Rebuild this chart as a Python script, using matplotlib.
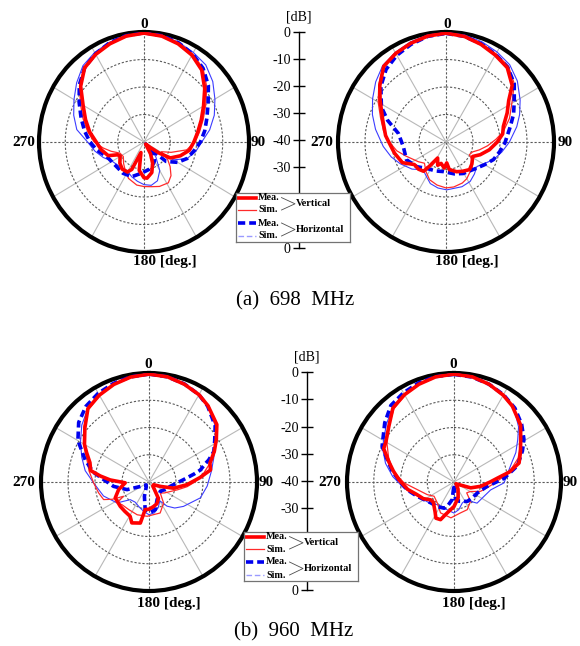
import numpy as np
import matplotlib
matplotlib.use("Agg")
import matplotlib.pyplot as plt

plt.rcParams['font.family'] = ['Liberation Serif', 'DejaVu Serif']

# ---------------- data (angle in degrees, gain in dB) ----------------
# (a) 698 MHz, left pattern
p1_vm_ang = [0, 10, 20, 30, 40, 50, 60, 70, 80, 90, 100, 110, 120, 125, 130, 140, 150, 157, 165, 175, 180, 190, 197, 205, 210, 220, 230, 240, 245, 250, 260, 270, 280, 290, 300, 310, 320, 330, 340, 350, 360]
p1_vm_db = [-0.4, -0.9, -2.0, -3.5, -5.8, -9.8, -13.8, -16.8, -19.2, -21.0, -22.5, -25.3, -28.4, -33, -37, -39, -35, -31.6, -28.5, -26.8, -27, -29.5, -36, -29, -27.4, -27.1, -28, -29.5, -29, -25.5, -23.5, -21.8, -19, -16.3, -13.2, -8.5, -4.8, -3.2, -2.0, -0.9, -0.4]
p1_vs_ang = [0, 10, 20, 30, 40, 50, 60, 70, 80, 90, 100, 110, 118, 125, 132, 140, 148, 160, 170, 180, 190, 204, 215, 225, 236, 246, 255, 262, 270, 280, 290, 300, 310, 320, 330, 340, 350, 360]
p1_vs_db = [-0.3, -0.7, -1.6, -3.0, -5.0, -8.8, -12.8, -16, -18.5, -20.5, -23.5, -29, -32.5, -29, -26.6, -24, -22.5, -22.8, -23.5, -23.8, -24.1, -25.5, -27.5, -29, -30.5, -30, -27, -24.3, -21, -18.2, -15.3, -12, -8, -4.5, -3, -1.6, -0.7, -0.3]
p1_hm_ang = [0, 10, 20, 30, 40, 50, 60, 70, 80, 90, 100, 110, 120, 130, 135, 138, 142, 150, 160, 170, 185, 200, 215, 236, 250, 260, 270, 280, 290, 300, 310, 320, 330, 340, 350, 360]
p1_hm_db = [-0.3, -0.7, -1.6, -3.0, -5.0, -8.0, -11.8, -14.5, -16.5, -18.5, -20.8, -22.5, -25.2, -29, -36, -39, -34, -32, -30.8, -29.8, -28.6, -26.6, -26.1, -26, -24.8, -22, -19.4, -17, -14.5, -11.5, -7.8, -4.8, -3.0, -1.6, -0.7, -0.3]
p1_hs_ang = [0, 10, 20, 30, 40, 50, 60, 70, 80, 90, 100, 110, 120, 125, 130, 140, 150, 160, 170, 180, 190, 200, 213, 225, 240, 250, 260, 270, 280, 290, 300, 310, 320, 330, 340, 350, 360]
p1_hs_db = [-0.3, -0.6, -1.4, -2.4, -3.4, -5.8, -8.8, -11.5, -14.6, -18, -20, -22.5, -27, -33, -37, -33, -28, -25, -24, -24.5, -25.5, -26.5, -27.8, -27.2, -26, -23.5, -21, -18.5, -14, -11.5, -9.2, -6.5, -3.8, -2.4, -1.4, -0.6, -0.3]

# (a) 698 MHz, right pattern
p2_vm_ang = [0, 10, 20, 30, 40, 50, 57, 65, 75, 82, 90, 100, 110, 118, 130, 139, 150, 160, 173, 178, 184, 193, 200, 208, 215, 218, 226, 235, 245, 258, 270, 276, 289, 302, 310, 320, 330, 340, 350, 360]
p2_vm_db = [-0.4, -1.0, -2.2, -3.5, -4.7, -8, -12.3, -15, -18, -18.8, -21, -23.7, -26.5, -28.8, -27.5, -26.7, -27.7, -28.5, -29.9, -32.4, -30.5, -32, -31, -33.4, -29.2, -26.5, -25.8, -25.7, -22.2, -20.5, -18.8, -17.5, -15.2, -11.2, -8, -4.1, -2.8, -1.8, -0.9, -0.4]
p2_vs_ang = [0, 10, 20, 30, 40, 50, 58, 70, 80, 87, 95, 103, 110, 118, 125, 134, 142, 150, 158, 170, 180, 192, 204, 215, 226, 235, 251, 260, 270, 280, 290, 300, 310, 320, 330, 340, 350, 360]
p2_vs_db = [-0.3, -0.8, -1.8, -3.0, -4.0, -7, -11, -15, -18.5, -21.5, -24.5, -27.3, -29.5, -30.2, -28, -26.5, -25.8, -24.6, -23.9, -23.4, -23.3, -24, -25, -27, -28.9, -27.5, -24.3, -21.5, -19, -16.5, -14.2, -11, -7.5, -3.8, -2.5, -1.5, -0.7, -0.3]
p2_hm_ang = [0, 10, 20, 30, 40, 50, 59, 68, 77, 91, 100, 110, 120, 130, 140, 151, 165, 185, 200, 217, 230, 246, 264, 280, 290, 298, 310, 320, 330, 340, 350, 360]
p2_hm_db = [-0.5, -1.0, -2, -3.2, -4.5, -7.0, -10.5, -13, -15.6, -18.2, -19.8, -21.3, -23.5, -25.2, -26.3, -26.9, -28, -29.2, -28.8, -28, -26, -24, -24.1, -22.1, -17, -12.9, -8.5, -5.5, -3.6, -2.2, -1.0, -0.5]
p2_hs_ang = [0, 10, 20, 30, 40, 50, 61, 70, 78, 90, 100, 110, 120, 128, 138, 148, 160, 179, 190, 201, 210, 220, 232, 245, 255, 266, 280, 290, 300, 310, 320, 330, 340, 350, 360]
p2_hs_db = [-0.3, -0.5, -1.2, -2.2, -3.3, -5.5, -8.6, -11, -13.2, -16.5, -19, -21.3, -24, -25.5, -24.3, -23.1, -22.7, -22.6, -23, -23.8, -25.5, -26.8, -24, -21.3, -19, -16.7, -13.5, -11, -8.6, -6, -3.6, -2.4, -1.3, -0.5, -0.3]

# (b) 960 MHz, left pattern
p3_vm_ang = [0, 10, 20, 30, 38, 50, 58, 65, 73, 79, 85, 94, 104, 111, 120, 135, 150, 160, 170, 180, 188, 192, 203, 209, 220, 230, 245, 256, 268, 273, 277, 281, 288, 295, 300, 310, 320, 330, 340, 350, 360]
p3_vm_db = [-0.4, -0.8, -1.8, -3.0, -4.5, -7.2, -10.6, -13.3, -16.4, -16.8, -21, -25.9, -30.6, -35.5, -38, -38, -33, -31.5, -30.8, -30, -29.8, -24.6, -23.7, -25.6, -26, -26.1, -26.2, -28.4, -31.2, -25.6, -21.8, -18, -17, -14.5, -12.4, -9, -4.8, -3.2, -1.9, -0.9, -0.4]
p3_vs_ang = [0, 10, 20, 30, 40, 50, 60, 70, 81, 90, 97, 105, 114, 125, 134, 145, 160, 172, 183, 200, 217, 230, 237, 241, 245, 249, 258, 269, 280, 290, 300, 310, 320, 330, 340, 350, 360]
p3_vs_db = [-0.4, -0.8, -1.8, -3.2, -5, -7.8, -11.3, -14.8, -19.5, -23, -25.8, -29, -31.4, -33, -34.2, -30.6, -27.9, -27.9, -27.4, -27.2, -27.4, -27, -26, -29.2, -25, -22, -20.9, -19.5, -17.5, -15.5, -12, -8.5, -5.2, -3.4, -1.9, -0.9, -0.4]
p3_hm_ang = [0, 10, 20, 30, 38, 50, 58, 65, 70, 72, 77, 80, 86, 101, 115, 129, 142, 155, 167, 178, 188, 198, 210, 225, 243, 251, 263, 273, 280, 289, 300, 310, 320, 330, 340, 350, 360]
p3_hm_db = [-0.4, -0.8, -1.7, -3.0, -4.7, -8, -11.3, -13.5, -16.5, -18, -20.5, -23, -27.1, -31.9, -33.5, -34.6, -34, -32.9, -29.6, -28.8, -29.8, -34.5, -38, -38.5, -36.4, -31.4, -26.8, -23.2, -19, -15, -9.6, -6, -3.7, -2.4, -1.5, -0.8, -0.4]
p3_hs_ang = [0, 10, 20, 30, 40, 50, 60, 70, 80, 94, 107, 125, 135, 143, 150, 160, 170, 180, 190, 200, 215, 227, 237, 253, 269, 280, 290, 300, 310, 320, 330, 340, 350, 360]
p3_hs_db = [-0.4, -0.8, -1.7, -3.0, -5, -8, -11.5, -14.5, -16.5, -18.4, -20.1, -24.4, -26.5, -28.9, -32, -30, -28.5, -28, -29, -30, -31, -30.5, -25.9, -22.4, -19.5, -16, -13.5, -10.7, -7.5, -4.8, -3.2, -1.8, -0.9, -0.4]

# (b) 960 MHz, right pattern
p4_vm_ang = [0, 10, 20, 30, 38, 50, 58, 66, 74, 80, 85, 90, 99, 109, 118, 130, 150, 165, 180, 187, 195, 200, 207, 213, 220, 226, 233, 242, 252, 261, 272, 280, 287, 295, 300, 310, 320, 330, 340, 350, 360]
p4_vm_db = [-0.4, -0.8, -1.8, -3.2, -4.6, -7.5, -10.6, -12.8, -14.7, -19, -23.7, -26.5, -29.9, -33.4, -38, -39, -37, -34, -31, -29.8, -27.6, -25.3, -25.1, -27, -28.4, -29.3, -29.1, -27, -25.3, -22.5, -19.5, -17, -14.5, -11, -10.6, -8.2, -4.5, -3, -1.8, -0.8, -0.4]
p4_vs_ang = [0, 10, 20, 30, 40, 50, 60, 70, 80, 89, 100, 109, 120, 130, 139, 154, 168, 185, 204, 219, 235, 245, 255, 269, 280, 290, 300, 310, 320, 330, 340, 350, 360]
p4_vs_db = [-0.4, -0.8, -1.8, -3.2, -5.2, -8, -11.2, -14.5, -19, -23.8, -27.5, -29.5, -33, -33.8, -30.6, -28.7, -28.4, -26.8, -27.6, -30.1, -30.9, -29, -27, -21.3, -17, -14, -11, -8.2, -5, -3.2, -1.9, -0.8, -0.4]
p4_hm_ang = [0, 10, 20, 30, 40, 50, 59, 66, 76, 86, 98, 115, 130, 145, 165, 175, 180, 186, 195, 201, 215, 229, 249, 260, 269, 280, 290, 296, 310, 320, 330, 340, 350, 360]
p4_hm_db = [-0.5, -0.9, -1.8, -3, -4.6, -7, -9.5, -12, -15.6, -21.3, -27.7, -30.4, -31, -31.3, -32.7, -34, -39, -33.5, -31, -29.7, -29, -28.4, -25.3, -22.5, -20.1, -16.5, -13, -10.1, -6.2, -3.3, -2.2, -1.3, -0.7, -0.5]
p4_hs_ang = [0, 10, 20, 30, 40, 50, 57, 65, 71, 80, 91, 102, 115, 132, 139, 148, 158, 170, 180, 194, 217, 230, 245, 263, 275, 285, 295, 300, 310, 320, 330, 340, 350, 360]
p4_hs_db = [-0.4, -0.8, -1.7, -3, -5, -8.5, -11.6, -14.5, -17, -19.5, -21.3, -26, -27.6, -28.4, -30.6, -32, -31.7, -29.7, -28.6, -29.5, -29.6, -28, -26.2, -21.2, -17, -13.5, -10.5, -9.6, -7, -4.3, -2.8, -1.6, -0.8, -0.4]

# scale ticks, top to bottom (the two lowest inner labels sit under the legend box)
scale_labels = ['0', '-10', '-20', '-30', '-40', '-30', '', '', '0']
angle_labels = ['0', '90', '180 [deg.]', '270']
legend_labels = ['Mea.', 'Sim.', 'Mea.', 'Sim.']
group_labels = ['Vertical', 'Horizontal']
captions = ['(a)  698  MHz', '(b)  960  MHz']

# ---------------- styles ----------------
W, H = 580, 646
STY = {
    'vm': dict(color='#ff0000', lw=2.6, ls='-', zorder=6),
    'vs': dict(color='#ff2a2a', lw=0.9, ls='-', zorder=4),
    'hm': dict(color='#0000ee', lw=2.6, ls=(0, (2.0, 1.1)), zorder=5),
    'hs': dict(color='#3c3cff', lw=0.8, ls='-', zorder=3),
}

fig = plt.figure(figsize=(W / 100, H / 100), dpi=100)
fig.patch.set_facecolor('white')


def fx(x):
    return x / W


def fy(y):
    return 1 - y / H


def polar_panel(cx, cy, rx, ry, curves, lab):
    ax = fig.add_axes([fx(cx - rx), fy(cy + ry), 2 * rx / W, 2 * ry / H], projection='polar')
    ax.set_aspect('auto')
    ax.set_theta_zero_location('N')
    ax.set_theta_direction(-1)
    ax.set_ylim(-40, 0)
    ax.set_xticks([])
    ax.set_yticks([])
    ax.grid(False)
    ax.spines['polar'].set_linewidth(3.0)
    ax.spines['polar'].set_color('black')
    for a in range(0, 360, 30):
        t = np.deg2rad(a)
        if a % 90 == 0:
            ax.plot([t, t], [-40, 0], color='0.35', lw=0.8, ls=(0, (2, 1.6)), zorder=1)
        else:
            ax.plot([t, t], [-40, 0], color='0.72', lw=0.8, ls='-', zorder=1)
    th = np.linspace(0, 2 * np.pi, 361)
    for rr in (-30, -20, -10):
        ax.plot(th, np.full_like(th, rr), color='0.35', lw=0.8, ls=(0, (2, 1.6)), zorder=1)
    for key, ang, db in curves:
        ax.plot(np.deg2rad(ang), db, **STY[key])
    # angle labels
    tkw = dict(fontsize=11, fontweight='bold', va='center')
    fig.text(fx(lab[0][0]), fy(lab[0][1]), angle_labels[0], ha='center', **tkw)
    fig.text(fx(lab[1][0]), fy(lab[1][1]), angle_labels[1], ha='center', **tkw)
    fig.text(fx(lab[2][0]), fy(lab[2][1]), angle_labels[2], ha='left', **tkw)
    fig.text(fx(lab[3][0]), fy(lab[3][1]), angle_labels[3], ha='center', **tkw)
    return ax


def scale_axis(x, ytop, ybot):
    ax = fig.add_axes([fx(x), fy(ybot), 0.05, (ybot - ytop) / H])
    ax.patch.set_alpha(0)
    for s in ('right', 'top', 'bottom'):
        ax.spines[s].set_visible(False)
    ax.spines['left'].set_linewidth(1.0)
    ax.set_ylim(0, 8)
    ax.set_xticks([])
    ax.set_yticks(range(9))
    ax.set_yticklabels(scale_labels[::-1], fontsize=10)
    ax.tick_params(axis='y', direction='inout', length=9, width=1.0, pad=1.5)
    fig.text(fx(x), fy(ytop - 15), '[dB]', ha='center', va='center', fontsize=10)


def legend_box(x0, y0):
    ax = fig.add_axes([fx(x0), fy(y0 + 49), 114 / W, 49 / H], zorder=20)
    ax.set_xlim(0, 114)
    ax.set_ylim(49, 0)
    ax.set_xticks([])
    ax.set_yticks([])
    ax.set_facecolor('white')
    for s in ax.spines.values():
        s.set_color('0.45')
        s.set_linewidth(0.9)
    ys = [4.6, 17, 30, 43]
    keys = ['vm', 'vs', 'hm', 'hs']
    for k, yy, lab in zip(keys, ys, legend_labels):
        st = dict(STY[k])
        st.pop('zorder')
        if k == 'hs':
            st.update(color='#9a9aff', ls=(0, (4, 2)), lw=1.0)
        ax.plot([1.5, 20], [yy, yy], **st)
        ax.text(22, yy, lab, fontsize=7.3, fontweight='bold', va='center', ha='left')
    for (ya, yb), g in zip([(ys[0], ys[1]), (ys[2], ys[3])], group_labels):
        ym = (ya + yb) / 2
        ax.plot([45.5, 59, 45.5], [ya, ym, yb], color='0.3', lw=0.6)
        ax.text(60, ym, g, fontsize=7.6, fontweight='bold', va='center', ha='left')


polar_panel(144, 142, 105, 110,
            [('hs', p1_hs_ang, p1_hs_db), ('vs', p1_vs_ang, p1_vs_db),
             ('hm', p1_hm_ang, p1_hm_db), ('vm', p1_vm_ang, p1_vm_db)],
            [(144, 25), (258, 143), (133, 262), (24, 143)])
polar_panel(446, 142, 108, 110,
            [('hs', p2_hs_ang, p2_hs_db), ('vs', p2_vs_ang, p2_vs_db),
             ('hm', p2_hm_ang, p2_hm_db), ('vm', p2_vm_ang, p2_vm_db)],
            [(447, 25), (565, 143), (435, 262), (322, 143)])
polar_panel(149, 482, 108, 109,
            [('hs', p3_hs_ang, p3_hs_db), ('vs', p3_vs_ang, p3_vs_db),
             ('hm', p3_hm_ang, p3_hm_db), ('vm', p3_vm_ang, p3_vm_db)],
            [(148, 365), (266, 482), (137, 603), (24, 482)])
polar_panel(454, 482, 107, 109,
            [('hs', p4_hs_ang, p4_hs_db), ('vs', p4_vs_ang, p4_vs_db),
             ('hm', p4_hm_ang, p4_hm_db), ('vm', p4_vm_ang, p4_vm_db)],
            [(453, 365), (570, 482), (442, 603), (330, 482)])

scale_axis(299, 32, 248)
scale_axis(307, 372, 590)
legend_box(236, 193)
legend_box(244, 532)

fig.text(fx(295), fy(301), captions[0], ha='center', va='center', fontsize=15)
fig.text(fx(294), fy(632), captions[1], ha='center', va='center', fontsize=15)

fig.savefig('out.png', dpi=100, facecolor='white')
